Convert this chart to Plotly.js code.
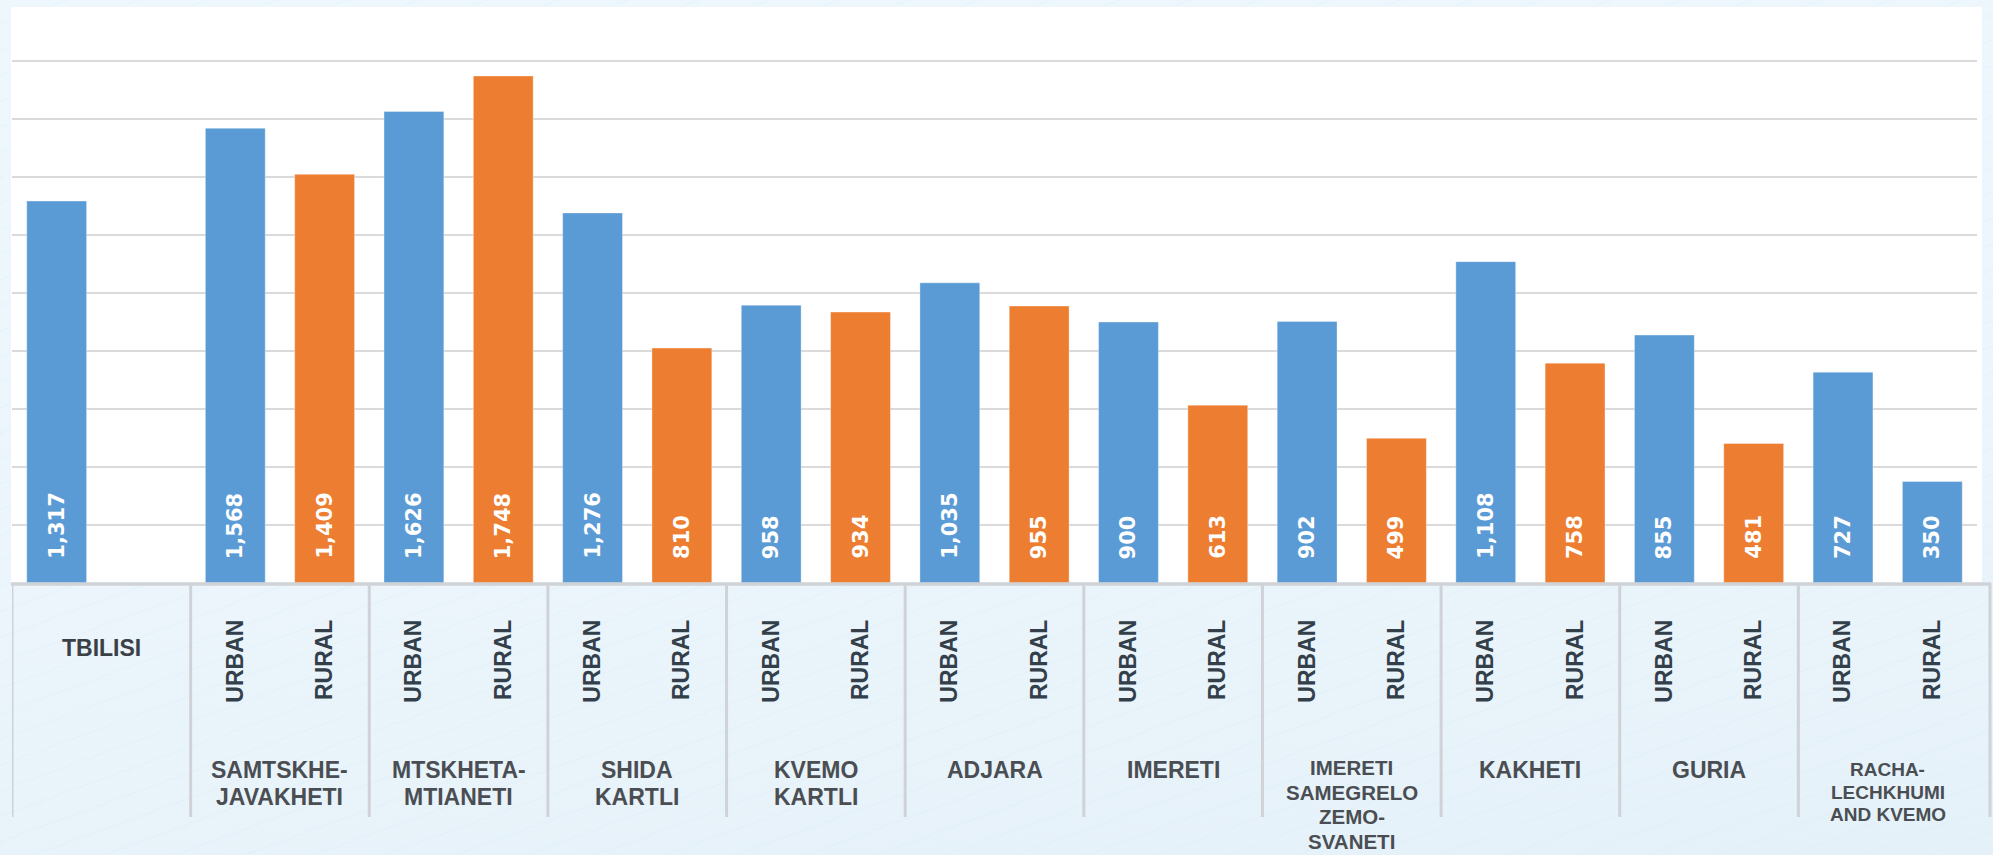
<!DOCTYPE html>
<html>
<head>
<meta charset="utf-8">
<script src="https://cdn.plot.ly/plotly-3.0.1.min.js"></script>
<style>
  html, body { margin: 0; padding: 0; }
  body {
    width: 1993px; height: 855px; overflow: hidden;
    background:
      repeating-linear-gradient(160deg, rgba(255,255,255,0) 0px, rgba(255,255,255,0) 22px, rgba(200,225,240,0.18) 23px, rgba(255,255,255,0) 24px),
      linear-gradient(175deg, #eef7fc 0%, #ebf5fb 60%, #e5f1f9 100%);
  }
  #chart { width: 1993px; height: 855px; }
</style>
</head>
<body>
<div id="chart"></div>
<script>
// ---- data ----
const regions = [
  'TBILISI',
  'SAMTSKHE-<br>JAVAKHETI',
  'MTSKHETA-<br>MTIANETI',
  'SHIDA<br>KARTLI',
  'KVEMO<br>KARTLI',
  'ADJARA',
  'IMERETI',
  'IMERETI<br>SAMEGRELO<br>ZEMO-<br>SVANETI',
  'KAKHETI',
  'GURIA',
  'RACHA-<br>LECHKHUMI<br>AND KVEMO'
];
const urban = [1317, 1568, 1626, 1276, 958, 1035, 900, 902, 1108, 855, 727];
const rural = [null, 1409, 1748, 810, 934, 955, 613, 499, 758, 481, 350];
const subLabels = ['URBAN', 'RURAL'];

// ---- styling / layout helpers ----
const BLUE = '#5B9BD5', ORANGE = '#ED7D31';
const PLOT_TOP = 7, PLOT_BOTTOM = 583, PLOT_H = PLOT_BOTTOM - PLOT_TOP;
const py = pix => (PLOT_BOTTOM - pix) / PLOT_H;   // pixel row -> paper y
const urbanX = regions.map((_, i) => 2 * i);
const ruralX = regions.map((_, i) => 2 * i + 1);

const tickvals = [], ticktext = [];
regions.forEach((r, i) => {
  if (i === 0) return;
  tickvals.push(urbanX[i], ruralX[i]);
  ticktext.push('<b>' + subLabels[0] + '</b>', '<b>' + subLabels[1] + '</b>');
});

const traces = [
  {
    type: 'bar', x: urbanX, y: urban, width: 0.67,
    marker: { color: BLUE, line: { color: 'rgba(255,255,255,0.35)', width: 1 } },
    hoverinfo: 'skip'
  },
  {
    type: 'bar', x: ruralX, y: rural, width: 0.67,
    marker: { color: rural.map((v, i) => i === rural.length - 1 ? BLUE : ORANGE),
              line: { color: 'rgba(255,255,255,0.35)', width: 1 } },
    hoverinfo: 'skip'
  }
];

const annotations = [];
const fmt = v => v.toLocaleString('en-US');
[[urbanX, urban], [ruralX, rural]].forEach(([xs, vs]) => {
  vs.forEach((v, i) => {
    if (v == null) return;
    annotations.push({
      x: xs[i], y: 0, xref: 'x', yref: 'y',
      text: '<b>' + fmt(v) + '</b>', textangle: -90,
      xanchor: 'center', yanchor: 'bottom', yshift: 22,
      showarrow: false,
      font: { family: 'DejaVu Sans', size: 21, color: '#ffffff' }
    });
  });
});

// region labels
const labelStyle = { 7: { size: 20.5, gap: 24.5, top: 755 }, 10: { size: 19, gap: 22.5, top: 758 } };
regions.forEach((r, i) => {
  if (i === 0) {
    annotations.push({
      x: 0.5, xref: 'x', y: py(633), yref: 'paper', yanchor: 'top', xanchor: 'center',
      text: '<b>' + r + '</b>', showarrow: false,
      font: { family: 'Liberation Sans, Arial', size: 23, color: '#3b4046' }
    });
    return;
  }
  const st = labelStyle[i] || { size: 23, gap: 27, top: 755.5 };
  r.split('<br>').forEach((line, k) => {
    annotations.push({
      x: 2 * i + 0.5, xref: 'x', y: py(st.top + k * st.gap), yref: 'paper',
      yanchor: 'top', xanchor: 'center', borderpad: 0,
      text: '<b>' + line + '</b>', showarrow: false,
      font: { family: 'Liberation Sans, Arial', size: st.size, color: '#4a4e53' }
    });
  });
});

// table grid: dividers and baseline
const DIV_COLOR = '#cfd3d7';
const shapes = [
  { type: 'rect', xref: 'paper', yref: 'paper', x0: -1 / 1965, x1: (1982 - 12) / 1965, y0: 0, y1: 1,
    fillcolor: '#ffffff', line: { width: 0 }, layer: 'below' }
];
regions.forEach((r, i) => {
  shapes.push({ type: 'line', xref: 'x', yref: 'paper', x0: 2 * i - 0.5, x1: 2 * i - 0.5,
    y0: 0, y1: py(817), line: { color: DIV_COLOR, width: 3 } });
});
shapes.push({ type: 'line', xref: 'paper', yref: 'paper', x0: (1990 - 12) / 1965, x1: (1990 - 12) / 1965,
  y0: 0, y1: py(817), line: { color: DIV_COLOR, width: 3 } });
shapes.push({ type: 'line', xref: 'paper', yref: 'paper', x0: -1 / 1965, x1: (1991 - 12) / 1965,
  y0: py(584), y1: py(584), line: { color: DIV_COLOR, width: 3.5 } });

const layout = {
  width: 1993, height: 855,
  margin: { l: 12, r: 16, t: PLOT_TOP, b: 855 - PLOT_BOTTOM, pad: 0 },
  paper_bgcolor: 'rgba(0,0,0,0)',
  plot_bgcolor: '#ffffff',
  showlegend: false,
  barmode: 'overlay',
  xaxis: {
    range: [-0.5, 21.5], showgrid: false, zeroline: false, showline: false,
    tickmode: 'array', tickvals: tickvals, ticktext: ticktext, tickangle: -90,
    ticks: '', ticklabelstandoff: 31,
    tickfont: { family: 'Liberation Sans, Arial', size: 23, color: '#33404a' },
    fixedrange: true
  },
  yaxis: {
    range: [0, 1986], dtick: 200, tick0: 0, showgrid: true, gridcolor: '#dadada', gridwidth: 2,
    zeroline: false, showticklabels: false, ticks: '', showline: false, fixedrange: true
  },
  annotations: annotations,
  shapes: shapes
};

Plotly.newPlot('chart', traces, layout, { staticPlot: true, displayModeBar: false });
</script>
</body>
</html>
